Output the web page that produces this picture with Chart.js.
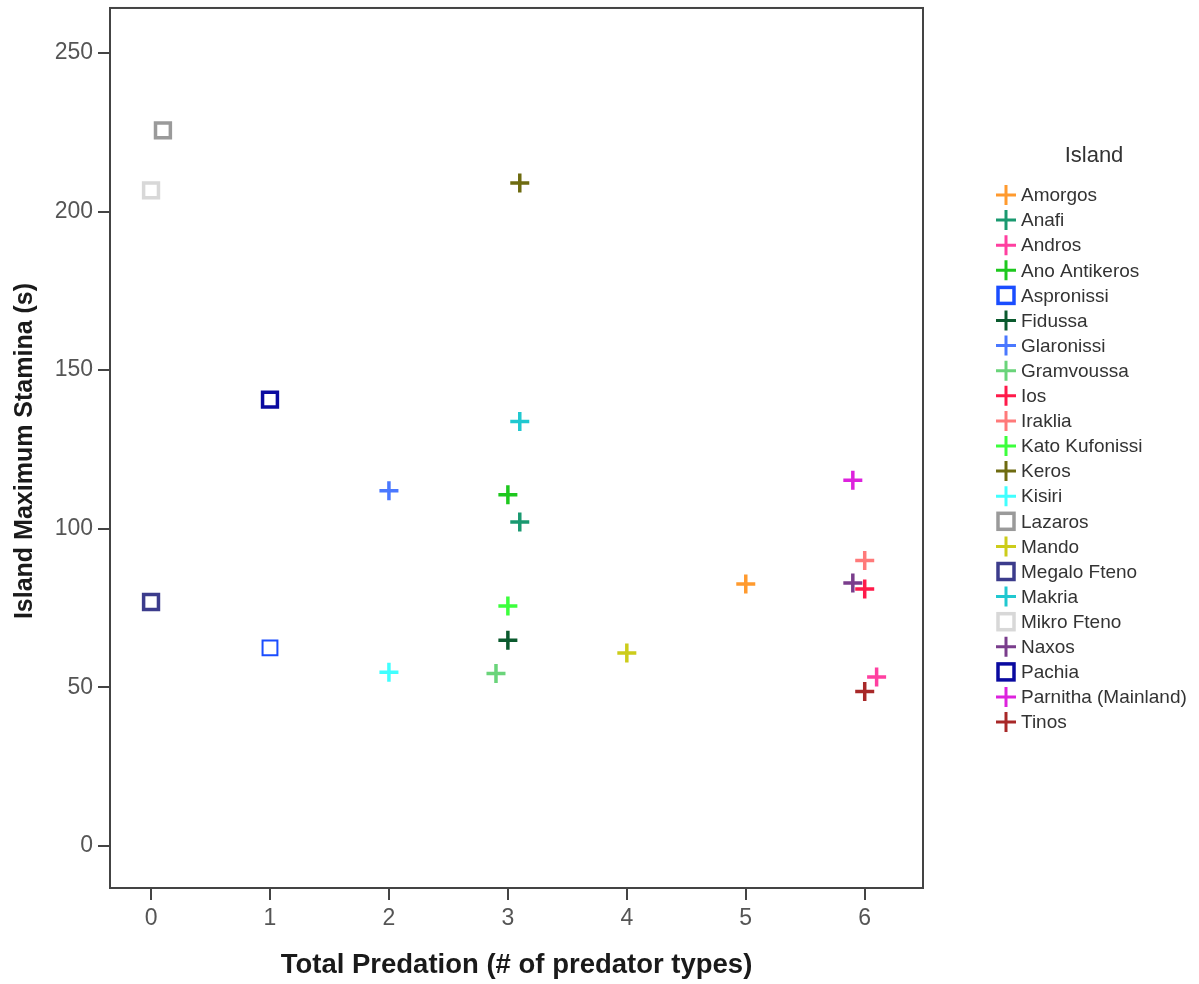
<!DOCTYPE html>
<html>
<head>
<meta charset="utf-8">
<script src="https://cdn.jsdelivr.net/npm/chart.js@4/dist/chart.umd.min.js"></script>
<style>
  html, body { margin: 0; padding: 0; background: #fff; }
  #wrap { width: 1199px; height: 984px; }
</style>
</head>
<body>
<div id="wrap"><canvas id="plot" width="1199" height="984"></canvas></div>
<script>
// data
const islands = ['Amorgos', 'Anafi', 'Andros', 'Ano Antikeros', 'Aspronissi', 'Fidussa', 'Glaronissi',
  'Gramvoussa', 'Ios', 'Iraklia', 'Kato Kufonissi', 'Keros', 'Kisiri', 'Lazaros', 'Mando',
  'Megalo Fteno', 'Makria', 'Mikro Fteno', 'Naxos', 'Pachia', 'Parnitha (Mainland)', 'Tinos'];
const predation = [5, 3.1, 6.1, 3, 1, 3, 2, 2.9, 6, 6, 3, 3.1, 2, 0.1, 4, 0, 3.1, 0, 5.9, 1, 5.9, 6];
const stamina = [82.6, 102.1, 53.2, 110.7, 62.4, 64.8, 112.0, 54.3, 81.0, 90.0, 75.6, 209.0, 54.7, 225.6,
  60.8, 76.9, 133.8, 206.7, 82.9, 140.7, 115.3, 48.7];
const xTicks = [0, 1, 2, 3, 4, 5, 6];
const yTicks = [0, 50, 100, 150, 200, 250];

// styling
const colors = ['#ff9a2e', '#1a9970', '#ff3fa0', '#1ec81e', '#1a4dff', '#0b5a2e', '#4a78ff',
  '#6ad47a', '#ff1a4a', '#ff7a7a', '#3cff3c', '#6e6b10', '#40ffff', '#9a9a9a', '#cccc1a',
  '#3c3c8c', '#20c8d0', '#d8d8d8', '#7a3d8c', '#0a0aa0', '#dd22dd', '#a82828'];
const squares = ['Aspronissi', 'Lazaros', 'Megalo Fteno', 'Mikro Fteno', 'Pachia'];
const AXIS = '#444';
const FRAME_TOP = 264.2; // value where the SPSS frame closes, a bit above the y max chart.js keeps
const TICK_FONT = { family: "'Liberation Sans Narrow', 'Liberation Sans', sans-serif", size: 23 };
const TITLE_FONT = { family: "'Liberation Sans', Arial, sans-serif", size: 27.5, weight: 'bold' };

const datasets = islands.map((name, i) => {
  const sq = squares.includes(name);
  return {
    label: name,
    data: [{ x: predation[i], y: stamina[i] }],
    pointStyle: sq ? 'rect' : 'cross',
    pointRadius: sq ? 10.5 : 9.5,
    pointBorderWidth: sq ? (name === 'Aspronissi' ? 2 : 3.5) : 3.5,
    borderColor: colors[i],
    backgroundColor: sq ? '#fff' : colors[i],
  };
});

// full box round the plot
const boxPlugin = {
  id: 'box',
  afterDraw(chart) {
    const { ctx, chartArea: a } = chart;
    const top = chart.scales.y.getPixelForValue(FRAME_TOP);
    ctx.save();
    ctx.strokeStyle = AXIS;
    ctx.lineWidth = 2;
    ctx.strokeRect(a.left, top, a.right - a.left, a.bottom - top);
    ctx.restore();
  },
};

const legendPlugin = {
  id: 'islandLegend',
  afterDraw(chart) {
    const ctx = chart.ctx;
    ctx.save();
    ctx.fillStyle = '#333';
    ctx.textBaseline = 'middle';
    ctx.textAlign = 'center';
    ctx.font = "22px 'Liberation Sans', Arial, sans-serif";
    ctx.fillText('Island', 1094, 156);
    ctx.textAlign = 'left';
    ctx.font = "19px 'Liberation Sans', Arial, sans-serif";
    chart.data.datasets.forEach((ds, i) => {
      const y = 195 + i * 25.1;
      const x = 1006;
      ctx.strokeStyle = ds.borderColor;
      if (ds.pointStyle === 'rect') {
        ctx.lineWidth = 3.5;
        ctx.fillStyle = '#fff';
        ctx.fillRect(x - 8, y - 8, 16, 16);
        ctx.strokeRect(x - 8, y - 8, 16, 16);
      } else {
        ctx.lineWidth = 3;
        ctx.beginPath();
        ctx.moveTo(x - 10, y); ctx.lineTo(x + 10, y);
        ctx.moveTo(x, y - 10); ctx.lineTo(x, y + 10);
        ctx.stroke();
      }
      ctx.fillStyle = '#333';
      ctx.fillText(ds.label, 1021, y + 1);
    });
    ctx.restore();
  },
};

new Chart(document.getElementById('plot'), {
  type: 'scatter',
  data: { datasets },
  options: {
    responsive: false,
    animation: false,
    devicePixelRatio: 1,
    layout: { padding: { top: 8, right: 276, left: 0, bottom: 0 } },
    scales: {
      x: {
        type: 'linear',
        min: -0.345,
        max: 6.49,
        afterBuildTicks: s => { s.ticks = xTicks.map(v => ({ value: v })); },
        afterFit: s => { s.height = 96; s.paddingLeft = 0; s.paddingRight = 0; },
        border: { color: AXIS, width: 2 },
        grid: { drawOnChartArea: false, drawTicks: true, tickLength: 12, color: AXIS, lineWidth: 2 },
        ticks: { color: '#555', font: TICK_FONT, padding: 5, maxRotation: 0 },
        title: { display: true, text: 'Total Predation (# of predator types)', color: '#1a1a1a',
          font: TITLE_FONT, padding: { top: 0, bottom: 2 } },
      },
      y: {
        type: 'linear',
        min: -13.3,
        max: 262.3,
        afterBuildTicks: s => { s.ticks = yTicks.map(v => ({ value: v })); },
        afterFit: s => { s.width = 110; s.paddingTop = 0; s.paddingBottom = 0; },
        border: { color: AXIS, width: 2 },
        grid: { drawOnChartArea: false, drawTicks: true, tickLength: 12, color: AXIS, lineWidth: 2 },
        ticks: { color: '#555', font: TICK_FONT, padding: 5 },
        title: { display: true, text: 'Island Maximum Stamina (s)', color: '#1a1a1a',
          font: { ...TITLE_FONT, size: 25 }, padding: { top: 10, bottom: 0 } },
      },
    },
    plugins: {
      legend: { display: false },
      tooltip: { enabled: false },
    },
  },
  plugins: [boxPlugin, legendPlugin],
});
</script>
</body>
</html>
